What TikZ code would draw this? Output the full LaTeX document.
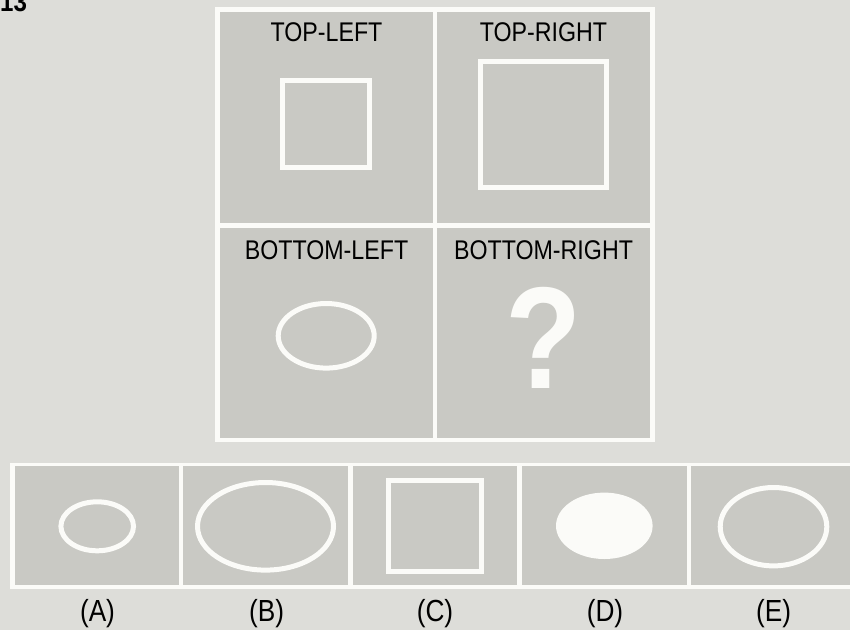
\documentclass[tikz,border=0pt]{standalone}
\usepackage{fontspec}
\setmainfont{Liberation Sans}[FakeStretch=0.86]
\definecolor{bgcol}{RGB}{221,221,217}
\definecolor{panelcol}{RGB}{201,201,196}
\definecolor{linecol}{RGB}{251,251,248}
\begin{document}
\begin{tikzpicture}[x=1pt,y=-1pt,
  panel/.style={fill=panelcol},
  frame/.style={fill=linecol},
  shapeline/.style={draw=linecol,line width=5pt},
  toplabel/.style={anchor=base,inner sep=0pt,font=\fontsize{27}{30}\selectfont,text=black},
  optlabel/.style={anchor=base,inner sep=0pt,font=\fontsize{30.5}{34}\selectfont,text=black}]
\useasboundingbox (0,0) rectangle (850,630);
\clip (0,0) rectangle (850,630);
\fill[bgcol] (0,0) rectangle (850,630);
% title number
\node[anchor=base west,inner sep=0pt,font=\fontsize{28}{32}\selectfont\bfseries] (num) at (0,11.7) {13};
% main 2x2 grid
\fill[frame] (215,7) rectangle (655,442);
\fill[panel] (220,12) rectangle (433,223);
\fill[panel] (437,12) rectangle (650,223);
\fill[panel] (220,228) rectangle (433,438);
\fill[panel] (437,228) rectangle (650,438);
\node[toplabel] (tl) at (326.5,41.7) {TOP-LEFT};
\node[toplabel] (tr) at (543.5,41.7) {TOP-RIGHT};
\node[toplabel] (bl) at (326.5,259.5) {BOTTOM-LEFT};
\node[toplabel] (br) at (543.5,259.5) {BOTTOM-RIGHT};
\draw[shapeline] (282.5,80.8) rectangle (369.8,167.5);
\draw[shapeline] (480.8,61.5) rectangle (606.5,187.5);
\draw[shapeline] (326.2,335.8) ellipse [x radius=48, y radius=32.3];
\node[anchor=base,inner sep=0pt,text=linecol,font=\fontsize{145}{150}\selectfont\bfseries] (q) at (544,388) {?};
% answer strip
\fill[frame] (10,462.7) rectangle (862,589.3);
\fill[panel] (15,466) rectangle (179,585);
\fill[panel] (183.3,466) rectangle (348.3,585);
\fill[panel] (352.7,466) rectangle (517.3,585);
\fill[panel] (521.7,466) rectangle (686.7,585);
\fill[panel] (691,466) rectangle (856,585);
\draw[shapeline] (97.2,526.3) ellipse [x radius=36.3, y radius=24.5];
\draw[shapeline] (265.5,526.3) ellipse [x radius=68, y radius=43.8];
\draw[shapeline] (388.5,480.2) rectangle (481.5,571.8);
\fill[linecol] (604.3,525.8) ellipse [x radius=48.3, y radius=33.2];
\draw[shapeline] (773.5,526.7) ellipse [x radius=53.3, y radius=39.2];
\node[optlabel] (la) at (97.5,621) {(A)};
\node[optlabel] (lb) at (266.5,621) {(B)};
\node[optlabel] (lc) at (435,621) {(C)};
\node[optlabel] (ld) at (605,621) {(D)};
\node[optlabel] (le) at (773.5,621) {(E)};
\end{tikzpicture}
\end{document}
